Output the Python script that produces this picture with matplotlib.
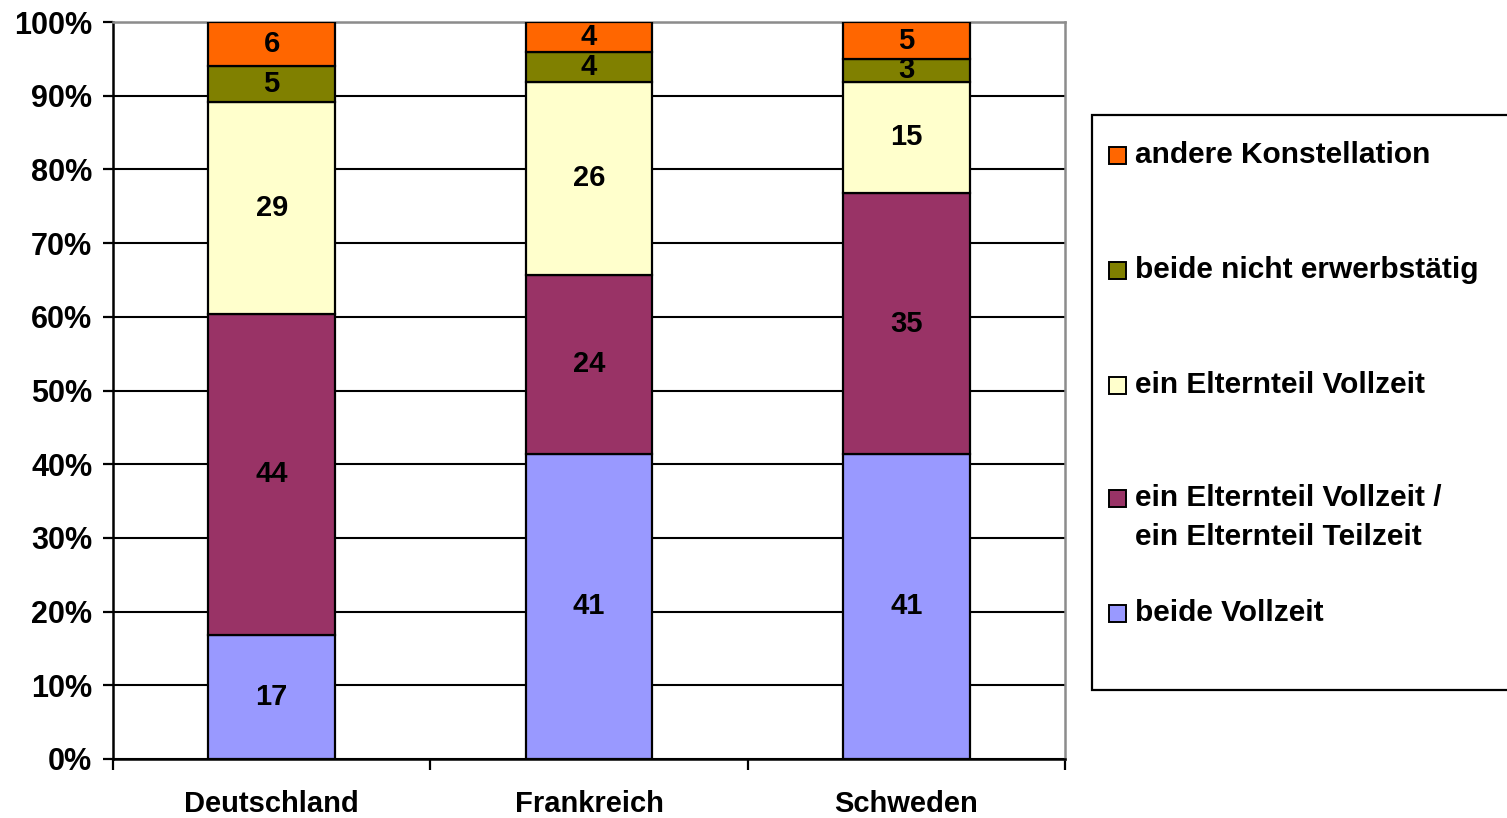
import matplotlib
matplotlib.use("Agg")
import matplotlib.pyplot as plt
from matplotlib.patches import Rectangle
import numpy as np

plt.rcParams['font.family'] = ['Liberation Sans', 'DejaVu Sans']
plt.rcParams['font.weight'] = 'bold'

countries = ["Deutschland", "Frankreich", "Schweden"]
series_names = [
    "beide Vollzeit",
    "ein Elternteil Vollzeit /\nein Elternteil Teilzeit",
    "ein Elternteil Vollzeit",
    "beide nicht erwerbstätig",
    "andere Konstellation",
]
beide_vollzeit = [17, 41, 41]
voll_teil = [44, 24, 35]
ein_vollzeit = [29, 26, 15]
beide_nicht = [5, 4, 3]
andere = [6, 4, 5]
colors = ["#9999FF", "#993366", "#FFFFCC", "#808000", "#FF6600"]

values = np.array([beide_vollzeit, voll_teil, ein_vollzeit, beide_nicht, andere], dtype=float)
shares = values / values.sum(axis=0) * 100

fig = plt.figure(figsize=(15.07, 8.18), dpi=100)
ax = fig.add_axes([113 / 1507, 1 - 759 / 818, (1065 - 113) / 1507, (759 - 22) / 818])

x = np.arange(len(countries))
bottom = np.zeros(len(countries))
for vals, sh, col in zip(values, shares, colors):
    ax.bar(x, sh, bottom=bottom, width=0.40, color=col, edgecolor="black",
           linewidth=1.6, zorder=3)
    for xi, v, s, b in zip(x, vals, sh, bottom):
        ax.text(xi, b + s / 2, f"{int(v)}", ha="center", va="center",
                fontsize=21, fontweight="bold", zorder=4)
    bottom += sh

ax.set_xlim(-0.5, 2.5)
ax.set_ylim(0, 100)
ax.set_yticks(np.arange(0, 101, 10))
ax.set_yticklabels([f"{v}%" for v in range(0, 101, 10)], fontsize=22, fontweight="bold")
ax.set_xticks(x)
ax.set_xticklabels(countries, fontsize=21, fontweight="bold")
ax.set_xticks([-0.5, 0.5, 1.5, 2.5], minor=True)
ax.tick_params(axis="x", which="major", length=0, pad=22)
ax.tick_params(axis="x", which="minor", length=8, width=1.6, direction="out")
ax.tick_params(axis="y", length=7, width=1.6, direction="out", pad=8)

ax.yaxis.grid(True, color="black", linewidth=1.5, zorder=0)
ax.set_axisbelow(True)
for side in ("left", "bottom"):
    ax.spines[side].set_color("black")
    ax.spines[side].set_linewidth(1.8)
for side in ("top", "right"):
    ax.spines[side].set_color("#8c8c8c")
    ax.spines[side].set_linewidth(1.8)

# Legend box, laid out in figure pixel coordinates
W, H = 1507, 818
def fx(px):
    return px / W
def fy(py):
    return 1 - py / H

box = Rectangle((fx(1092), fy(690)), fx(1520) - fx(1092), fy(115) - fy(690),
                transform=fig.transFigure, facecolor="white", edgecolor="black",
                linewidth=1.6, clip_on=False)
fig.patches.append(box)

legend_rows = [
    (4, 155),
    (3, 270),
    (2, 385),
    (1, 498),
    (0, 613),
]
line_step = 39
for idx, ypx in legend_rows:
    sq = Rectangle((fx(1109), fy(ypx + 8.5)), fx(17), 17 / H, transform=fig.transFigure,
                   facecolor=colors[idx], edgecolor="black", linewidth=1.4)
    fig.patches.append(sq)
    for k, line in enumerate(series_names[idx].split("\n")):
        fig.text(fx(1135), fy(ypx + k * line_step), line, ha="left", va="center",
                 fontsize=21.5, fontweight="bold")

fig.savefig("out.png", dpi=100)
